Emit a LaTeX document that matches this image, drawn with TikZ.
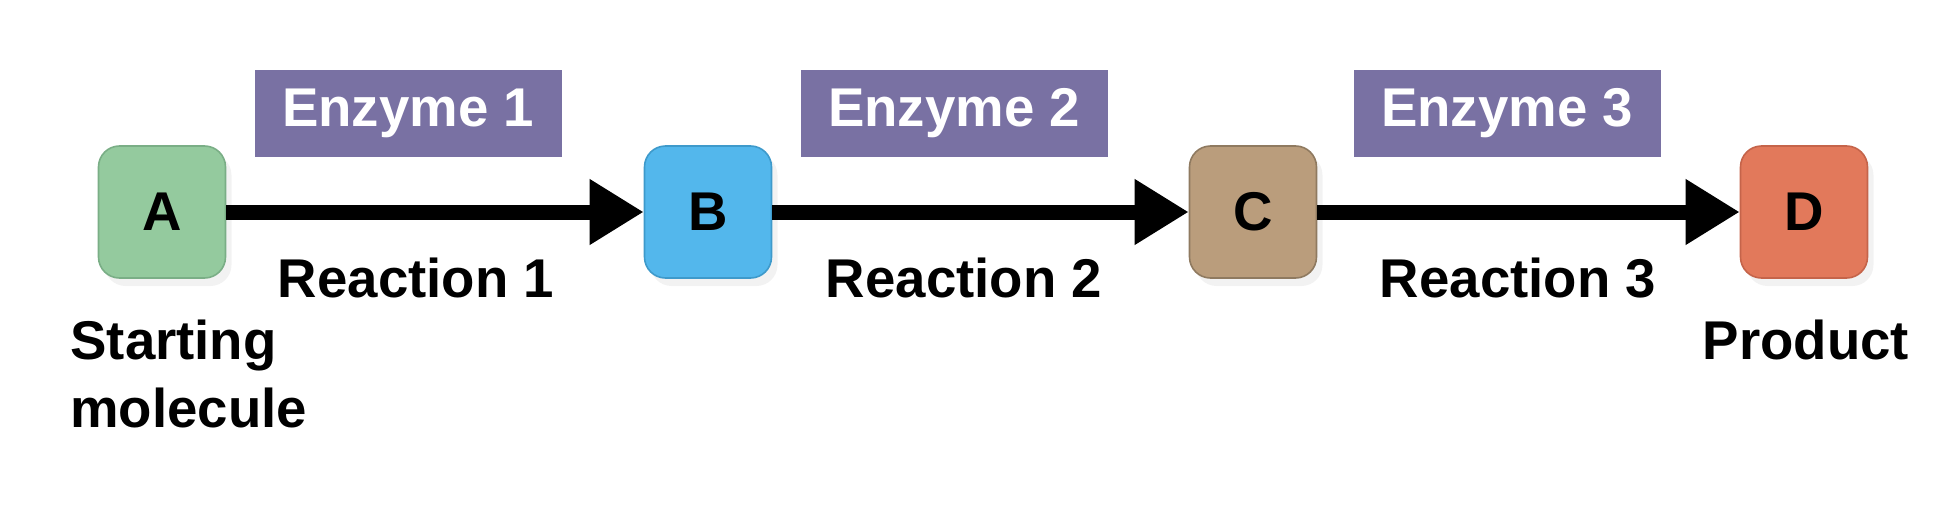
\documentclass[tikz,border=0pt]{standalone}
\usepackage{fontspec}
\setmainfont{Liberation Sans}
\usetikzlibrary{arrows.meta,shadows}
\definecolor{cA}{HTML}{94CA9E}
\definecolor{bA}{HTML}{7AAE86}
\definecolor{cB}{HTML}{53B7EC}
\definecolor{bB}{HTML}{3E9ACB}
\definecolor{cC}{HTML}{BA9D7C}
\definecolor{bC}{HTML}{8F7A60}
\definecolor{cD}{HTML}{E2795B}
\definecolor{bD}{HTML}{C5644A}
\definecolor{enz}{HTML}{7971A3}
\tikzset{
  big/.style={font=\fontsize{27.3}{34}\selectfont\bfseries},
  mol/.style={big, fill=#1, line width=0.8pt, rounded corners=10.5pt,
    minimum width=63.5pt, minimum height=66pt, inner sep=0pt,
    drop shadow={opacity=0.10, shadow xshift=3pt, shadow yshift=-4pt}},
  enzbox/.style={big, fill=enz, text=white, minimum width=153.5pt, minimum height=43.5pt, inner sep=0pt},
  lbl/.style={big, anchor=base, inner sep=0pt},
  rxn/.style={line width=7.5pt, -{Triangle[length=27pt,width=31pt]}}
}
\begin{document}
\begin{tikzpicture}[x=0.5pt,y=-0.5pt]
\useasboundingbox (0,0) rectangle (1940,514);
\node[mol=cA, draw=bA] (A) at (162,212) {A};
\node[mol=cB, draw=bB] (B) at (708,212) {B};
\node[mol=cC, draw=bC] (C) at (1253,212) {C};
\node[mol=cD, draw=bD] (D) at (1804,212) {D};
\node[enzbox] (E1) at (408,113.5) {Enzyme 1};
\node[enzbox] (E2) at (954,113.5) {Enzyme 2};
\node[enzbox] (E3) at (1507,113.5) {Enzyme 3};
\draw[rxn] (A.east) -- (B.west);
\draw[rxn] (B.east) -- (C.west);
\draw[rxn] (C.east) -- (D.west);
\node[lbl] (R1) at (416,297) {Reaction 1};
\node[lbl] (R2) at (964,297) {Reaction 2};
\node[lbl] (R3) at (1518,297) {Reaction 3};
\node[lbl, anchor=base west] (S1) at (70,359) {Starting};
\node[lbl, anchor=base west] (S2) at (70,427) {molecule};
\node[lbl] (P) at (1806,359) {Product};
\end{tikzpicture}
\end{document}
